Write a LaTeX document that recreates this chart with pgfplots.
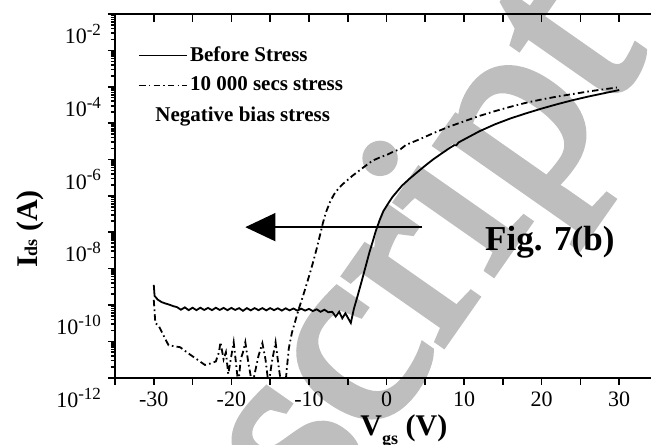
\documentclass[border=0pt]{standalone}
\usepackage{fontspec}
\setmainfont{Liberation Serif}
\newfontface\wmfont[FakeBold=3]{Liberation Serif}
\usepackage{pgfplots}
\usepackage{pgfplotstable}
\pgfplotsset{compat=1.18}
\usetikzlibrary{arrows.meta}
\definecolor{wmgray}{RGB}{190,190,190}
\newcommand{\tl}[1]{10\raisebox{0.38em}{\fontsize{8.5}{9}\selectfont -#1}}

\pgfplotstableread{
V I
-30 3.55e-10
-29.9 1.78e-10
-29.5 1.41e-10
-29.0 1.20e-10
-28.5 1.10e-10
-28.0 1.02e-10
-27.5 9.3e-11
-27.0 8.7e-11
-26.5 7.4e-11
-26.0 8.6e-11
-25.5 7.2e-11
-25.0 8.4e-11
-24.5 7.2e-11
-24.0 8.4e-11
-23.5 7.3e-11
-23.0 8.3e-11
-22.5 7.2e-11
-22.0 8.4e-11
-21.5 7.3e-11
-21.0 8.3e-11
-20.5 7.2e-11
-20.0 8.3e-11
-19.5 7.3e-11
-19.0 8.2e-11
-18.5 6.9e-11
-18.0 8.2e-11
-17.5 7.1e-11
-17.0 8.2e-11
-16.5 7.2e-11
-16.0 8.2e-11
-15.5 7.1e-11
-15.0 8.2e-11
-14.5 7.2e-11
-14.0 8.1e-11
-13.5 7.0e-11
-13.0 8.1e-11
-12.5 7.1e-11
-12.0 8.0e-11
-11.5 7.0e-11
-11.0 7.9e-11
-10.5 7.0e-11
-10.0 7.8e-11
-9.5 6.8e-11
-9.0 7.6e-11
-8.5 6.5e-11
-8.0 7.4e-11
-7.5 6.3e-11
-7.0 6.5e-11
-6.55 4.8e-11
-6.1 6.5e-11
-5.7 4.3e-11
-5.3 5.9e-11
-4.6 3.2e-11
-4.2 7.9e-11
-3.75 1.70e-10
-3.2 4.5e-10
-2.7 1.12e-9
-2.2 2.8e-9
-1.7 6.3e-9
-1.4 1.05e-8
-0.9 2.1e-8
-0.4 3.8e-8
0.3 6.6e-8
0.8 9.5e-8
2.0 1.91e-7
3.0 3.0e-7
3.8 4.17e-7
5.0 6.8e-7
6.0 1.0e-6
7.0 1.41e-6
8.1 2.04e-6
8.7 2.45e-6
9.0 2.45e-6
9.3 2.95e-6
10.0 3.55e-6
12.0 6.0e-6
14.0 9.3e-6
16.0 1.35e-5
18.0 1.86e-5
20.0 2.51e-5
22.0 3.31e-5
24.0 4.27e-5
26.0 5.37e-5
28.0 6.6e-5
30.0 8.13e-5
}\before

\pgfplotstableread{
V I
-30 1.38e-10
-29.8 3.16e-11
-29.4 2.75e-11
-28.1 7.8e-12
-26.6 6.9e-12
-25.5 4.6e-12
-23.4 2.24e-12
-22.6 2.5e-12
-22.0 2.8e-12
-21.6 5.0e-12
-21.4 9.5e-12
-21.0 3.2e-12
-20.7 5.0e-12
-20.4 1.26e-12
-20.0 4.0e-12
-19.7 9.5e-12
-19.4 2.5e-12
-19.1 6.3e-13
-18.8 3.2e-12
-18.5 5.0e-12
-18.2 9.5e-12
-17.8 2.5e-12
-17.3 6.3e-13
-16.9 1.6e-12
-16.5 4.0e-12
-16.0 8.9e-12
-15.6 3.2e-12
-15.2 6.3e-13
-14.8 2.5e-12
-14.3 9.5e-12
-13.9 2.0e-12
-13.5 5.0e-13
-13.0 7.9e-13
-12.6 6.3e-12
-12.2 1.7e-11
-11.3 7.9e-11
-10.8 1.66e-10
-10.4 3.16e-10
-9.9 7.1e-10
-9.5 1.41e-9
-9.0 3.55e-9
-8.6 7.9e-9
-8.2 1.78e-8
-7.8 3.55e-8
-7.3 6.6e-8
-6.8 1.07e-7
-6.2 1.58e-7
-5.6 2.14e-7
-4.4 3.55e-7
-3.0 6.0e-7
-1.8 9.3e-7
-0.6 1.20e-6
0.0 1.32e-6
1.0 1.70e-6
1.8 1.91e-6
2.5 2.51e-6
4.2 3.55e-6
6.0 5.25e-6
8.0 7.9e-6
10.0 1.12e-5
12.0 1.58e-5
14.0 2.14e-5
16.0 2.82e-5
18.0 3.63e-5
20.0 4.47e-5
22.0 5.37e-5
24.0 6.3e-5
26.0 7.4e-5
28.0 8.5e-5
29.7 9.5e-5
}\stress

\begin{document}
\begin{tikzpicture}
\node[anchor=base west, rotate=55, inner sep=0pt, text=wmgray,
      font=\wmfont\fontsize{130}{140}\selectfont] at (100.5pt,-74.15pt) {script};
\begin{axis}[
  scale only axis, width=271.5pt, height=181.85pt,
  xmin=-35, xmax=35, ymode=log, ymin=1e-12, ymax=1e-2,
  axis line style={line width=1.1pt},
  every tick/.style={black, line width=0.8pt},
  tick align=outside, xtick pos=bottom, ytick pos=left,
  major tick length=3.5pt, minor tick length=2pt,
  xtick={-35,-30,...,35},
  xticklabels={,-30,,-20,,-10,,0,,10,,20,,30,},
  ytickten={-12,-11,...,-2},
  yticklabels={\tl{12},,\tl{10},,\tl{8},,\tl{6},,\tl{4},,\tl{2}},
  tick label style={font=\fontsize{11}{13}\selectfont},
  yticklabel style={yshift=-10pt},
  xlabel={\textbf{V}\raisebox{-4.5pt}{\bfseries\fontsize{9}{9}\selectfont gs}\textbf{ (V)}},
  ylabel={\textbf{I}{\bfseries\fontsize{9}{9}\selectfont ds}\textbf{ (A)}},
  every axis x label/.style={at={(axis description cs:0.532,0)}, anchor=base, yshift=-28.65pt, font=\fontsize{15}{18}\selectfont},
  every axis y label/.style={at={(axis description cs:-0.1436,0.409)}, rotate=90, anchor=base, font=\fontsize{15}{18}\selectfont},
  legend style={at={(axis description cs:0.042,0.917)}, anchor=north west, draw=none, fill=none,
    font=\bfseries\fontsize{10.5}{12}\selectfont, row sep=4.3pt, inner sep=0pt,
    nodes={inner sep=1pt}},
  legend cell align=left,
  legend image code/.code={\draw[#1] (0pt,0pt) -- (24pt,0pt);},
  /tikz/every even column/.append style={column sep=5pt},
]
\addplot[black, line width=0.9pt] table[x=V,y=I] {\before};
\addlegendentry{Before Stress}
\addplot[black, line width=0.9pt, dash pattern=on 3.2pt off 1.6pt on 0.8pt off 1.6pt] table[x=V,y=I] {\stress};
\addlegendentry{10 000 secs stress}
\draw[line width=0.75pt,-{Triangle[length=15pt,width=14pt]}] (axis cs:4.6,1.38e-8) -- (axis cs:-18.2,1.38e-8);
\node[anchor=base west, font=\bfseries\fontsize{10.5}{12}\selectfont, inner sep=0pt] at (rel axis cs:0.0737,0.704) {Negative bias stress};
\node[anchor=base west, font=\bfseries\fontsize{17.5}{20}\selectfont, inner sep=0pt] at (rel axis cs:0.681,0.350) {Fig. 7(b)};
\end{axis}
\begin{axis}[
  scale only axis, width=271.5pt, height=181.85pt,
  xmin=-35, xmax=35, ymode=log, ymin=1e-12, ymax=1e-2,
  axis line style={draw=none},
  every tick/.style={black, line width=0.8pt},
  tick align=inside, xtick pos=top, ytick pos=right,
  major tick length=3.75pt, minor tick length=0pt,
  xtick={-35,-30,...,35}, xticklabels={},
  ytickten={-12,-11,...,-2}, yticklabels={},
]
\end{axis}
\pgfresetboundingbox
\useasboundingbox (-57.5pt,-33.15pt) rectangle (268pt,188.85pt);
\end{tikzpicture}
\end{document}
